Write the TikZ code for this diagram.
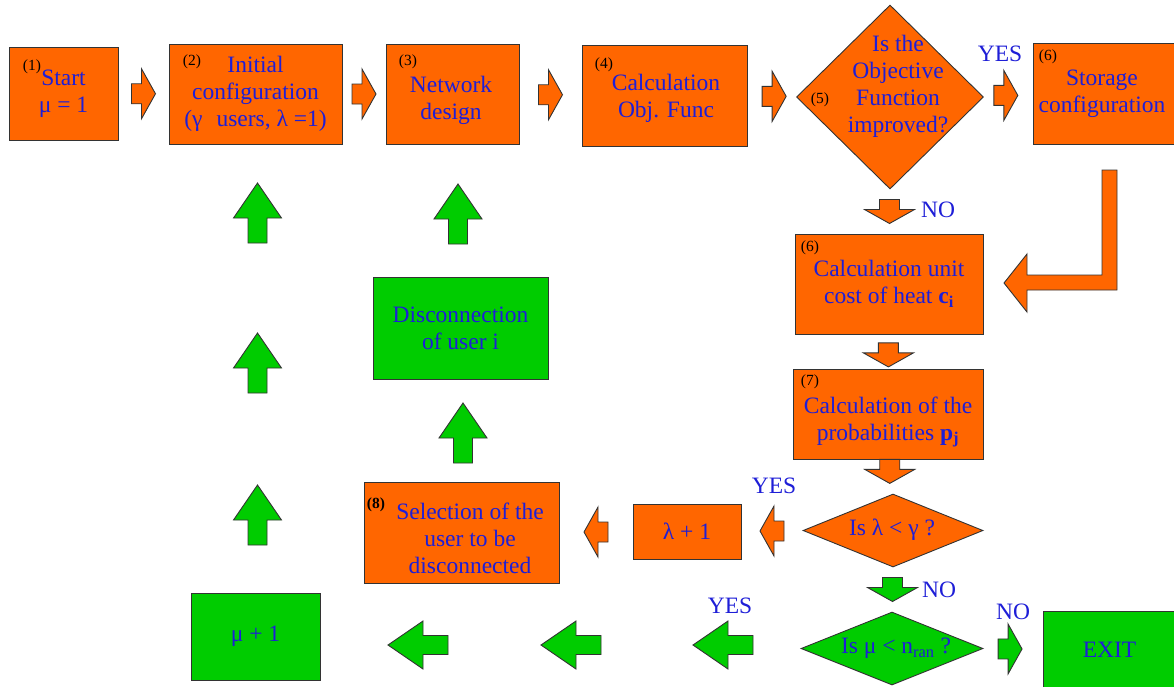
\documentclass[tikz,border=0pt]{standalone}
\usepackage{fontspec}
\setmainfont{Liberation Serif}
\usetikzlibrary{shapes.geometric,calc}

\definecolor{orng}{RGB}{255,102,0}
\definecolor{grn}{RGB}{0,204,0}
\definecolor{txtblue}{RGB}{30,30,215}

\tikzset{
	box/.style={draw=black!80, line width=0.9pt, inner sep=0pt, align=center, text=txtblue, font=\fontsize{23.5}{27}\selectfont},
	obox/.style={box, fill=orng},
	gbox/.style={box, fill=grn},
	odia/.style={box, diamond, fill=orng},
	gdia/.style={box, diamond, fill=grn},
	txt/.style={inner sep=0pt, align=center, text=txtblue, font=\fontsize{23.5}{27}\selectfont},
	num/.style={inner sep=0pt, font=\fontsize{15.5}{17}\selectfont},
	blk/.style={draw=black!80, line width=0.9pt},
}

%block arrows: colour, centre, direction
\newcommand{\smallarr}[3]{\draw[blk, fill=#1, shift={#2}, rotate=#3] (-12,-10)--(-2,-10)--(-2,-25)--(12,0)--(-2,25)--(-2,10)--(-12,10)--cycle;}
\newcommand{\bigarr}[3]{\draw[blk, fill=#1, shift={#2}, rotate=#3] (-30,-9.5)--(-5,-9.5)--(-5,-24)--(30,0)--(-5,24)--(-5,9.5)--(-30,9.5)--cycle;}

\begin{document}
\begin{tikzpicture}[x=1pt,y=-1pt]
	\useasboundingbox (0,0) rectangle (1174,686);

	%TOP ROW
	\node[obox, minimum width=109pt, minimum height=93pt]  (start) at (63.5,93.5) {Start\\μ = 1};
	\node[obox, minimum width=173pt, minimum height=100pt] (init)  at (255.5,94)  {Initial\\configuration\\(γ\hspace{0.6em}users, λ =1)};
	\node[obox, minimum width=133pt, minimum height=100pt] (netw)  at (452.5,94)  {};
	\node[txt] at (451,100) {Network\\design};
	\node[obox, minimum width=165pt, minimum height=101pt] (objf)  at (664.5,95.5) {};
	\node[txt] at (666,98) {Calculation\\Obj. Func};
	\node[odia, minimum width=187pt, minimum height=184pt] (imp)   at (890,97)    {};
	\node[txt] at (898,86) {Is the\\Objective\\Function\\improved?};
	\node[obox, minimum width=144pt, minimum height=101pt] (stor)  at (1105,93.5) {};
	\node[txt] at (1102,94) {Storage\\configuration};

	%RIGHT COLUMN
	\node[obox, minimum width=188pt, minimum height=100pt] (unit)  at (889,284)   {Calculation unit\\cost of heat \textbf{c\textsubscript{i}}};
	\node[obox, minimum width=190pt, minimum height=90pt]  (prob)  at (888,414)   {};
	\node[txt] at (888,422) {Calculation of the\\probabilities \textbf{p\textsubscript{j}}};
	\node[odia, minimum width=180pt, minimum height=73pt]  (ldia)  at (893,530.5) {};
	\node[txt] at (892,530) {Is λ < γ ?};
	\node[gdia, minimum width=182pt, minimum height=73pt]  (mdia)  at (892,648.5) {};
	\node[txt] at (896,648) {Is μ < n\textsubscript{ran} ?};
	\node[gbox, minimum width=133pt, minimum height=77pt]  (exit)  at (1109.5,649.5) {EXIT};

	%LEFT PART
	\node[obox, minimum width=108pt, minimum height=55pt]  (lplus) at (687,531.5)  {λ + 1};
	\node[obox, minimum width=195pt, minimum height=101pt] (sel)   at (461.5,532.5) {};
	\node[txt] at (470,538) {Selection of the\\user to be\\disconnected};
	\node[gbox, minimum width=175pt, minimum height=102pt] (disc)  at (460.5,328)  {Disconnection\\of user i};
	\node[gbox, minimum width=129pt, minimum height=87pt]  (mu)    at (255.5,636.5) {μ + 1};

	%STEP NUMBERS
	\node[num] at (32,67)    {(1)};
	\node[num] at (192,62)   {(2)};
	\node[num] at (408,62)   {(3)};
	\node[num] at (604,65)   {(4)};
	\node[num] at (820,100)  {(5)};
	\node[num] at (1048,57)  {(6)};
	\node[num] at (810,248)  {(6)};
	\node[num] at (810,382)  {(7)};
	\node[num, font=\fontsize{15.5}{17}\selectfont\bfseries] at (376,505) {(8)};

	%YES / NO
	\node[txt] at (1000,54)  {YES};
	\node[txt] at (938,210)  {NO};
	\node[txt] at (774,486)  {YES};
	\node[txt] at (939,590)  {NO};
	\node[txt] at (1013,612) {NO};
	\node[txt] at (730,606)  {YES};

	%ORANGE ARROWS
	\smallarr{orng}{($(start.east)!0.5!(init.west)$)}{0}
	\smallarr{orng}{($(init.east)!0.5!(netw.west)$)}{0}
	\smallarr{orng}{($(netw.east)!0.5!(objf.west)$)}{0}
	\smallarr{orng}{($(objf.east)!0.55!(imp.west)$)}{0}
	\smallarr{orng}{($(imp.east)!0.45!(stor.west)$)}{0}
	\smallarr{orng}{($(imp.south)!0.5!(unit.north)$)}{-90}
	\smallarr{orng}{($(unit.south)!0.6!(prob.north)$)}{-90}
	\smallarr{orng}{($(prob.south)!0.35!(ldia.north)$)}{-90}
	\smallarr{orng}{($(ldia.west)!0.5!(lplus.east)$)}{180}
	\smallarr{orng}{($(lplus.west)!0.5!(sel.east)$)}{180}
	\draw[blk, fill=orng] (1102,170)--(1117,170)--(1117,290)--(1027,290)--(1027,312)--(1004,283)--(1027,254)--(1027,275)--(1102,275)--cycle;

	%GREEN ARROWS
	\smallarr{grn}{($(ldia.south)!0.5!(mdia.north)$)}{-90}
	\smallarr{grn}{($(mdia.east)!0.45!(exit.west)$)}{0}
	\foreach \x in {723,571,418}{
		\bigarr{grn}{(\x,645)}{180}
	}
	\foreach \y in {213,363,515}{
		\bigarr{grn}{(257.5,\y)}{90}
	}
	\bigarr{grn}{(458,214)}{90}
	\bigarr{grn}{(463,433)}{90}
\end{tikzpicture}
\end{document}
